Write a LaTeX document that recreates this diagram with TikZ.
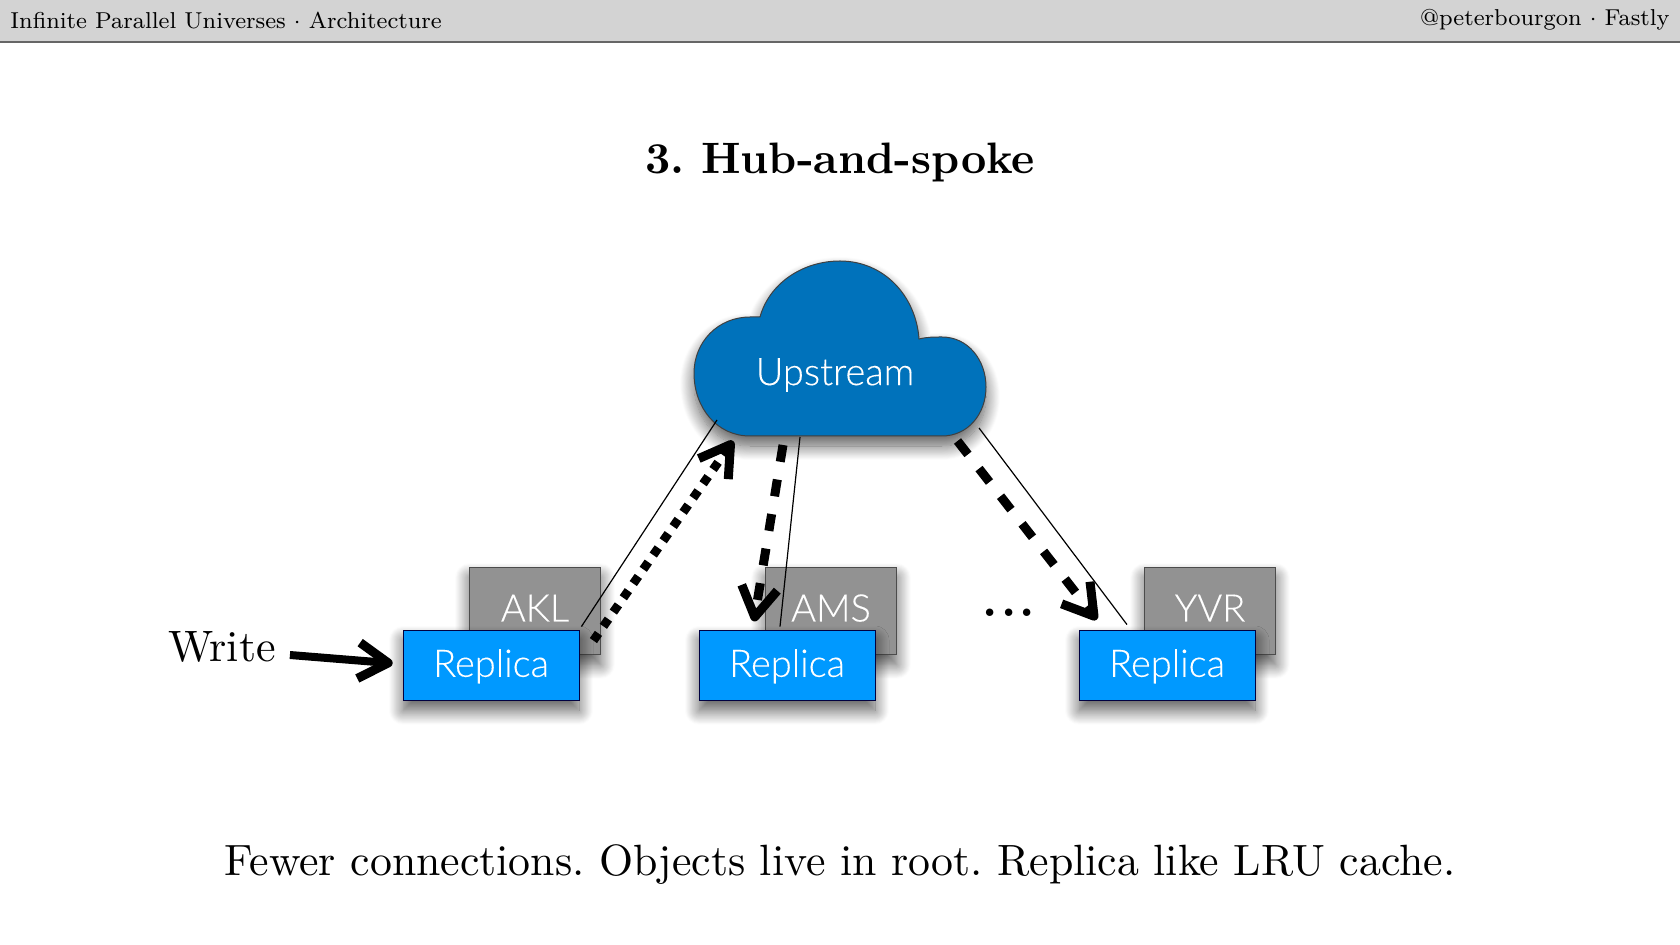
\documentclass[tikz,border=0pt]{standalone}
\usepackage{fontspec}
\usepackage{tikz}
\usetikzlibrary{arrows.meta, positioning, shadows.blur}
\newfontfamily\labelfont{Lato}[UprightFont=* Light, FakeBold=0.25]
\newfontfamily\slidefont{lmroman10-regular.otf}
\newfontfamily\headfont{lmroman8-regular.otf}
\newfontfamily\titlefont{lmroman10-bold.otf}
\definecolor{headergray}{HTML}{D3D3D3}
\definecolor{boxgray}{HTML}{929292}
\definecolor{replicablue}{HTML}{0099FF}
\definecolor{cloudblue}{HTML}{0072BB}
% straight open arrow head
\pgfdeclarearrow{
    name=Chevron,
    setup code={
        \pgfarrowssettipend{0pt}
        \pgfarrowssetlineend{-5pt}
        \pgfarrowssetvisualbackend{-5pt}
        \pgfarrowssetbackend{-17pt}
    },
    drawing code={
        \pgfsetdash{}{0pt}
        \pgfsetlinewidth{4.5pt}
        \pgfsetbuttcap
        \pgfsetroundjoin
        \pgfpathmoveto{\pgfqpoint{-17pt}{9pt}}
        \pgfpathlineto{\pgfqpoint{-2.2pt}{0pt}}
        \pgfpathlineto{\pgfqpoint{-17pt}{-9pt}}
        \pgfusepathqstroke
    }
}
\tikzset{
    softshadow/.style={blur shadow={shadow xshift=0pt, shadow yshift=-5pt, shadow blur radius=7pt, shadow opacity=65, shadow blur steps=16}},
    sitebox/.style={draw=black!70, fill=boxgray, line width=0.4pt, minimum width=65.8pt, minimum height=43.7pt, inner sep=0pt, text=white, font=\labelfont\fontsize{19}{22}\selectfont, text height=13.5pt, text depth=3pt, softshadow},
    replicabox/.style={draw=black!75!blue, fill=replicablue, line width=0.4pt, minimum width=88pt, minimum height=35.3pt, inner sep=0pt, text=white, font=\labelfont\fontsize{19}{22}\selectfont, text height=13.5pt, text depth=2pt, softshadow},
    spoke/.style={line width=0.6pt},
    dashflow/.style={-{Chevron}, line width=4.5pt, dash pattern=on 8.5pt off 9pt},
    dotflow/.style={-{Chevron}, line width=4.4pt, dash pattern=on 4.4pt off 4.3pt}
}
\begin{document}
\begin{tikzpicture}[x=0.5pt, y=-0.5pt]
    \useasboundingbox (0,0) rectangle (1680,945);

    % Header bar
    \fill[headergray] (0,0) rectangle (1680,42);
    \draw[black!60, line width=0.8pt] (0,42) -- (1680,42);
    \node[anchor=base west, inner sep=0pt, font=\headfont\fontsize{11.5}{14}\selectfont] (headleft) at (10,29) {Infinite Parallel Universes $\cdot$ Architecture};
    \node[anchor=base east, inner sep=0pt, font=\headfont\fontsize{11.5}{14}\selectfont] (headright) at (1670,26) {@peterbourgon $\cdot$ Fastly};

    \node[font=\titlefont\fontsize{22}{26}\selectfont\frenchspacing] (title) at (840,163) {3. Hub-and-spoke};

    % Cloud
    \fill[cloudblue, draw=black!75, line width=0.5pt, softshadow] (760,317)
        .. controls (769,284) and (802,261) .. (840,261)
        .. controls (884,261) and (916,296) .. (919,339)
        .. controls (927,337) and (934,337) .. (942,337)
        .. controls (968,337) and (986,360) .. (986,387)
        .. controls (986,414) and (968,436) .. (942,436)
        -- (750,436)
        .. controls (717,436) and (694,408) .. (694,373)
        .. controls (694,342) and (718,317) .. (750,317)
        -- cycle;
    \node[text=white, font=\labelfont\fontsize{19}{22}\selectfont] (upstream) at (835,375) {Upstream};
    \coordinate (cloudA) at (717,420);
    \coordinate (cloudB) at (800,437);
    \coordinate (cloudC) at (979,428);
    \coordinate (cloudD) at (733,441);
    \coordinate (cloudE) at (783,445);
    \coordinate (cloudF) at (957.5,441);

    % Sites
    \node[sitebox] (akl) at (535,611) {AKL};
    \node[sitebox] (ams) at (831,611) {AMS};
    \node[sitebox] (yvr) at (1210,611) {YVR};
    \node[replicabox] (replicaA) at (491,665.3) {Replica};
    \node[replicabox] (replicaB) at (787,665.3) {Replica};
    \node[replicabox] (replicaC) at (1167,665.3) {Replica};
    \node[anchor=base, inner sep=0pt, font=\titlefont\fontsize{24}{28}\selectfont] (dots) at (1009,616.5) {.\kern1.6pt.\kern1.6pt.};

    \node[font=\slidefont\fontsize{22}{26}\selectfont] (write) at (222,647) {Write};

    % Connections
    \draw[spoke] ([shift={(2,-3)}]replicaA.north east) -- (cloudA);
    \draw[spoke] ([shift={(-7,-3)}]replicaB.north) -- (cloudB);
    \draw[spoke] ([shift={(-40,-5)}]replicaC.north) -- (cloudC);
    \draw[dotflow] ([shift={(14,11)}]replicaA.north east) -- (cloudD);
    \draw[dashflow] (cloudE) -- ([shift={(-33,-8.3)}]replicaB.north);
    \draw[dashflow] (cloudF) -- ([shift={(-70.3,-10)}]replicaC.north);
    \draw[-{Chevron}, line width=4pt] ([shift={(7,8)}]write.east) -- ([shift={(-10,-2)}]replicaA.west);

    \node[font=\slidefont\fontsize{21.9}{26}\selectfont\frenchspacing] (caption) at (840,865) {Fewer connections. Objects live in root. Replica like LRU cache.};
\end{tikzpicture}
\end{document}
